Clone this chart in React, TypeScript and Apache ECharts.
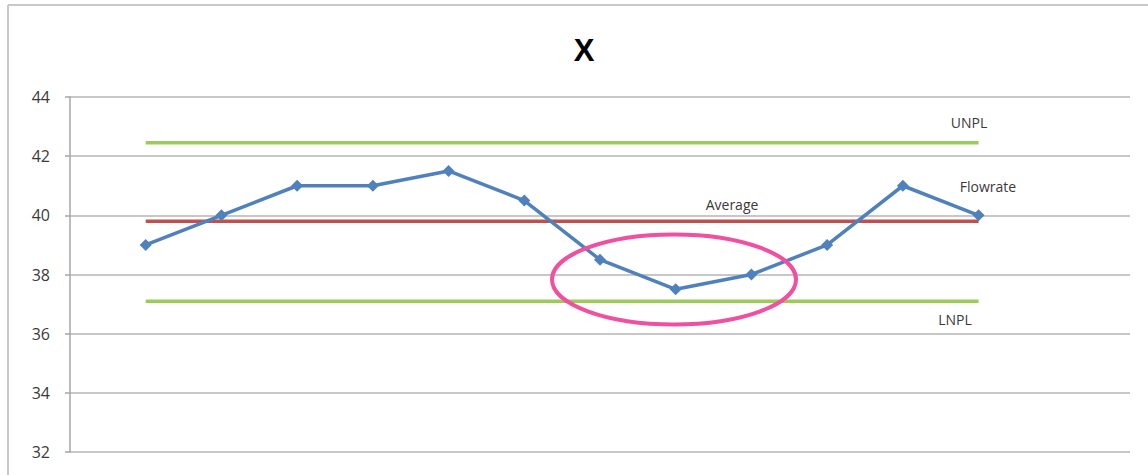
import React, { useEffect, useRef } from "react";
import * as echarts from "echarts";

const samples = [1, 2, 3, 4, 5, 6, 7, 8, 9, 10, 11, 12];
const flowrate = [39, 40, 41, 41, 41.5, 40.5, 38.5, 37.5, 38, 39, 41, 40];
const unpl = 42.45;
const average = 39.8;
const lnpl = 37.1;
const yTicks = [32, 34, 36, 38, 40, 42, 44];

export default function App() {
  const ref = useRef<HTMLDivElement>(null);
  useEffect(() => {
    if (!ref.current) return;
    const chart = echarts.init(ref.current, null, { renderer: "svg" });
    const first = samples[0];
    const last = samples[samples.length - 1];
    const limitLine = (name: string, v: number, color: string) => ({
      name,
      type: "line",
      data: [[first, v], [last, v]],
      symbol: "none",
      lineStyle: { color, width: 3.5 },
      z: 2,
    });
    const labelFont = { fontFamily: "Open Sans", fontSize: 14, fill: "#3a3a3a" };
    chart.setOption({
      animation: false,
      backgroundColor: "#ffffff",
      title: {
        text: "X",
        left: 579,
        top: 30,
        textAlign: "center",
        textStyle: { fontFamily: "Liberation Sans", fontWeight: "bold", fontSize: 31, color: "#000000" },
      },
      grid: { left: 70, right: 18, top: 97, bottom: 23 },
      xAxis: {
        type: "value",
        min: 0,
        max: 14,
        axisLine: { show: false },
        axisTick: { show: false },
        axisLabel: { show: false },
        splitLine: { show: false },
      },
      yAxis: {
        type: "value",
        min: yTicks[0],
        max: yTicks[yTicks.length - 1],
        interval: 2,
        axisLine: { show: true, lineStyle: { color: "#a6a6a6", width: 1.5 } },
        axisTick: { show: true, length: 5, lineStyle: { color: "#a6a6a6", width: 1.5 } },
        axisLabel: { color: "#3a3a3a", fontFamily: "Open Sans", fontSize: 16, margin: 20 },
        splitLine: { show: true, lineStyle: { color: "#b4b4b4", width: 1.5 } },
      },
      series: [
        limitLine("UNPL", unpl, "#9bcb5a"),
        limitLine("Average", average, "#c0504d"),
        limitLine("LNPL", lnpl, "#9bcb5a"),
        {
          name: "Flowrate",
          type: "line",
          data: samples.map((s, i) => [s, flowrate[i]]),
          symbol: "diamond",
          symbolSize: 12,
          lineStyle: { color: "#4f81bd", width: 3.5 },
          itemStyle: { color: "#4f81bd" },
          z: 3,
        },
      ],
      graphic: [
        { type: "line", shape: { x1: 8, y1: 5, x2: 1148, y2: 5 }, style: { stroke: "#c8c8c8", lineWidth: 2 } },
        { type: "line", shape: { x1: 8, y1: 5, x2: 8, y2: 475 }, style: { stroke: "#c8c8c8", lineWidth: 2 } },
        { type: "text", x: 969, y: 122, style: { ...labelFont, text: "UNPL", align: "center", verticalAlign: "middle" } },
        { type: "text", x: 988, y: 186, style: { ...labelFont, text: "Flowrate", align: "center", verticalAlign: "middle" } },
        { type: "text", x: 732, y: 204, style: { ...labelFont, text: "Average", align: "center", verticalAlign: "middle" } },
        { type: "text", x: 955, y: 319, style: { ...labelFont, text: "LNPL", align: "center", verticalAlign: "middle" } },
        {
          type: "ellipse",
          shape: { cx: 674, cy: 279.5, rx: 122, ry: 45 },
          style: { fill: "none", stroke: "#f050a0", lineWidth: 4 },
          z: 10,
        },
      ],
    });
    return () => chart.dispose();
  }, []);
  return (
    <div
      ref={ref}
      style={{ position: "fixed", left: 0, top: 0, width: 1148, height: 475 }}
    />
  );
}
